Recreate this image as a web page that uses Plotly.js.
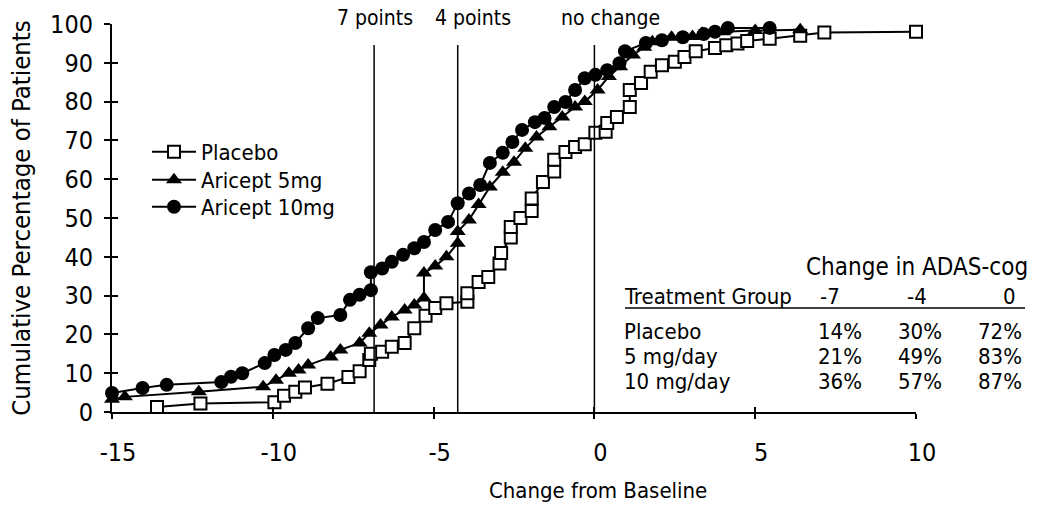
<!DOCTYPE html>
<html>
<head>
<meta charset="utf-8">
<script src="https://cdn.plot.ly/plotly-3.0.1.min.js"></script>
<style>html,body{margin:0;padding:0;background:#fff}#chart{width:1038px;height:517px}</style>
</head>
<body>
<div id="chart"></div>
<script>
// ---- Data ----
const seriesNames = ["Placebo", "Aricept 5mg", "Aricept 10mg"];

const placeboX = [-13.6,-12.25,-9.95,-9.65,-9.3,-9.0,-8.3,-7.65,-7.3,-7.0,-6.95,-6.6,-6.3,-5.9,-5.6,-5.25,-4.95,-4.6,-3.95,-3.95,-3.6,-3.3,-2.95,-2.9,-2.6,-2.6,-2.3,-1.95,-1.95,-1.6,-1.25,-1.25,-0.9,-0.6,-0.3,0.03,0.35,0.4,0.7,1.1,1.1,1.45,1.75,2.1,2.5,2.8,3.15,3.75,4.1,4.45,4.75,5.45,6.4,7.15,10.0];
const placeboY = [1.3,2.2,2.5,4.2,5.2,6.3,7.3,9.0,10.5,13.4,15.0,15.5,16.8,17.8,21.6,24.8,26.8,28.0,28.4,30.6,33.5,34.8,38.3,41.0,45.0,47.7,50.0,51.8,55.0,59.3,62.0,65.0,67.0,68.3,69.0,72.0,72.2,74.5,76.0,78.6,83.0,84.8,87.7,89.4,90.3,91.5,93.0,93.8,94.5,95.0,95.6,96.2,97.0,97.8,98.0];

const mg5X = [-15,-14.6,-12.3,-10.3,-9.9,-9.5,-9.2,-8.9,-8.2,-7.9,-7.3,-7.0,-6.65,-6.3,-5.9,-5.6,-5.3,-5.3,-4.95,-4.6,-4.25,-4.25,-3.9,-3.6,-3.25,-2.85,-2.5,-2.15,-1.8,-1.4,-1.0,-0.6,-0.3,0.1,0.45,0.8,1.2,1.55,1.8,2.4,3.05,3.35,4.0,5.0,6.4];
const mg5Y = [3.3,3.9,5.2,6.5,8.2,10.0,10.8,12.1,14.2,16.0,17.8,20.3,22.4,24.5,26.3,27.6,29.4,35.8,37.6,40.0,43.5,46.5,49.5,53.5,58.0,61.8,64.4,68.0,70.9,73.5,76.0,78.6,80.0,83.0,86.5,89.0,92.0,94.0,95.4,96.6,96.8,97.6,98.0,98.3,98.5];

const mg10X = [-15,-14.05,-13.3,-11.6,-11.3,-10.95,-10.25,-9.95,-9.6,-9.3,-8.9,-8.6,-7.9,-7.6,-7.3,-6.95,-6.95,-6.6,-6.3,-5.95,-5.6,-5.3,-4.95,-4.55,-4.25,-3.9,-3.55,-3.25,-2.85,-2.55,-2.25,-1.85,-1.55,-1.25,-0.9,-0.6,-0.3,0.03,0.4,0.78,0.95,1.6,2.1,2.75,3.4,3.75,4.15,5.45];
const mg10Y = [4.9,6.2,7.0,7.7,9.1,10.0,12.6,14.7,16.0,17.8,21.6,24.2,25.0,28.9,30.2,31.4,36.0,37.0,38.7,40.5,42.2,43.8,46.9,49.0,53.8,56.3,58.5,64.2,66.8,69.6,72.7,74.7,75.8,78.6,79.9,83.0,86.0,86.9,88.1,89.9,93.0,95.1,95.8,96.6,97.4,98.0,99.0,99.0];

// axis ticks
const xTickVals = [-15, -10, -5, 0, 5, 10];
const xTickText = ["-15", "-10", "-5", "0", "5", "10"];
const yTickVals = [0, 10, 20, 30, 40, 50, 60, 70, 80, 90, 100];

// reference lines
const refLineX = [-6.85, -4.25, 0];
const refLineTop = 94.6;
const refLabels = ["7 points", "4 points", "no change"];

// table
const tableTitle = "Change in ADAS-cog";
const tableHeader = "Treatment Group";
const tableCols = ["-7", "-4", "0"];
const tableGroups = ["Placebo", "5 mg/day", "10 mg/day"];
const tableValues = [["14%","30%","72%"],["21%","49%","83%"],["36%","57%","87%"]];

const xTitle = "Change from Baseline";
const yTitle = "Cumulative Percentage of Patients";

// ---- Styling / layout ----
const FONT = "'Liberation Sans Narrow', 'DejaVu Sans Condensed', 'Arial Narrow', sans-serif";
const W = 1038, H = 517;
const L = 112, R = 122, T = 24, B = 105;
const pw = W - L - R, ph = H - T - B;
const px2paper = (px) => (px - L) / pw;
const py2paper = (py) => (H - B - py) / ph;

const lineStyle = {color: '#000', width: 2};
const legendIds = ['legend', 'legend2', 'legend3'];
const traces = [
  {x: placeboX, y: placeboY, name: seriesNames[0], mode: 'lines+markers', line: lineStyle,
   marker: {symbol: 'square', size: 12, color: '#fff', line: {color: '#000', width: 2}}},
  {x: mg5X, y: mg5Y, name: seriesNames[1], mode: 'lines+markers', line: lineStyle,
   marker: {symbol: 'triangle-up', size: 14, color: '#000'}},
  {x: mg10X, y: mg10Y, name: seriesNames[2], mode: 'lines+markers', line: lineStyle,
   marker: {symbol: 'circle', size: 14, color: '#000'}}
];
traces.forEach((t, i) => { t.cliponaxis = false; t.legend = legendIds[i]; });
traces.push({x: [null], y: [null], xaxis: 'x2', yaxis: 'y2', showlegend: false, hoverinfo: 'skip', mode: 'markers'});

const shapes = refLineX.map(x => ({type: 'line', xref: 'x', yref: 'y', x0: x, x1: x, y0: 0, y1: refLineTop,
  line: {color: '#000', width: 1.5}}));
shapes.push({type: 'line', xref: 'paper', yref: 'paper', x0: px2paper(625), x1: px2paper(1025),
  y0: py2paper(308), y1: py2paper(308), line: {color: '#000', width: 1.5}});

const tFont = {family: FONT, size: 22, color: '#000'};
const annotations = [];
const refLabelPx = [375, 473, 610];
refLabels.forEach((t, i) => annotations.push({text: t, x: px2paper(refLabelPx[i]), y: py2paper(18),
  xref: 'paper', yref: 'paper', showarrow: false, xanchor: 'center', yanchor: 'middle',
  font: {family: FONT, size: 21, color: '#000'}}));
annotations.push({text: tableTitle, x: px2paper(1030), y: py2paper(267), xref: 'paper', yref: 'paper',
  showarrow: false, xanchor: 'right', yanchor: 'middle', font: {family: FONT, size: 24, color: '#000'}});
annotations.push({text: tableHeader, x: px2paper(622), y: py2paper(296), xref: 'paper', yref: 'paper',
  showarrow: false, xanchor: 'left', yanchor: 'middle', font: tFont});
const colCenters = [830, 917, 1009];
const colRights = [864, 944, 1024];
const rowYs = [331, 356, 381];
tableCols.forEach((c, j) => annotations.push({text: c, x: px2paper(colCenters[j]), y: py2paper(296),
  xref: 'paper', yref: 'paper', showarrow: false, xanchor: 'center', yanchor: 'middle', font: tFont}));
tableGroups.forEach((g, i) => {
  annotations.push({text: g, x: px2paper(622), y: py2paper(rowYs[i]), xref: 'paper', yref: 'paper',
    showarrow: false, xanchor: 'left', yanchor: 'middle', font: tFont});
  tableValues[i].forEach((v, j) => annotations.push({text: v, x: px2paper(colRights[j]), y: py2paper(rowYs[i]),
    xref: 'paper', yref: 'paper', showarrow: false, xanchor: 'right', yanchor: 'middle', font: tFont}));
});
annotations.push({text: xTitle, x: px2paper(598), y: py2paper(490), xref: 'paper', yref: 'paper',
  showarrow: false, xanchor: 'center', yanchor: 'middle', font: {family: FONT, size: 22, color: '#000'}});

const legendRowPx = [152, 180, 207];
const mkLegend = (py) => ({x: px2paper(147), y: py2paper(py), xanchor: 'left', yanchor: 'middle',
  bgcolor: 'rgba(0,0,0,0)', borderwidth: 0, font: {family: FONT, size: 22, color: '#000'}, itemwidth: 44});

const layout = {
  width: W, height: H,
  margin: {l: L, r: R, t: T, b: B, pad: 0},
  paper_bgcolor: '#fff', plot_bgcolor: '#fff',
  font: {family: FONT, size: 24, color: '#000'},
  showlegend: true,
  legend: mkLegend(legendRowPx[0]),
  legend2: mkLegend(legendRowPx[1]),
  legend3: mkLegend(legendRowPx[2]),
  xaxis: {range: [-15, 10], tickmode: 'array', tickvals: xTickVals, ticktext: xTickText,
    ticks: 'outside', ticklen: 5, tickwidth: 2, tickcolor: '#000',
    showline: true, linecolor: '#000', linewidth: 2, showgrid: false, zeroline: false,
    ticklabelstandoff: 12, ticklabelshift: 6,
    tickfont: {family: FONT, size: 25, color: '#000'}},
  yaxis: {range: [0, 100], tickmode: 'array', tickvals: yTickVals,
    ticks: 'outside', ticklen: 6, tickwidth: 2, tickcolor: '#000',
    showline: true, linecolor: '#000', linewidth: 2, showgrid: false, zeroline: false,
    ticklabelstandoff: 6,
    tickfont: {family: FONT, size: 25, color: '#000'},
    title: {text: yTitle, font: {family: FONT, size: 25.5, color: '#000'}, standoff: 12}},
  xaxis2: {overlaying: 'x', anchor: 'y2', range: [-15, 10], tickmode: 'array', tickvals: xTickVals,
    ticks: 'inside', ticklen: 5, tickwidth: 2, tickcolor: '#000', showticklabels: false,
    showline: false, showgrid: false, zeroline: false},
  yaxis2: {overlaying: 'y', anchor: 'x2', range: [0, 100], tickmode: 'array', tickvals: yTickVals,
    ticks: 'inside', ticklen: 6, tickwidth: 2, tickcolor: '#000', showticklabels: false,
    showline: false, showgrid: false, zeroline: false},
  shapes: shapes,
  annotations: annotations
};

Plotly.newPlot('chart', traces, layout, {displayModeBar: false, staticPlot: true});
</script>
</body>
</html>
